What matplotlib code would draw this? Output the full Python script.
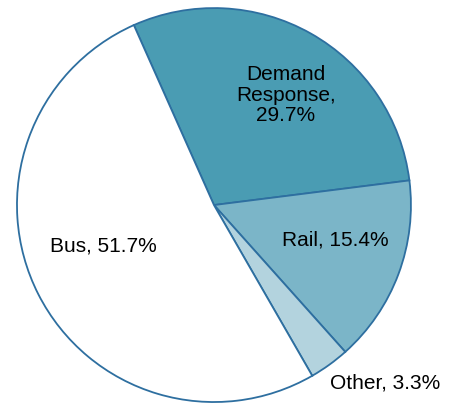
import matplotlib.pyplot as plt

# Share of trips by mode
labels = ['Demand\nResponse,\n29.7%', 'Rail, 15.4%', 'Other, 3.3%', 'Bus, 51.7%']
shares = [29.7, 15.4, 3.3, 51.7]
colors = ['#4a9cb3', '#7bb5c8', '#b3d3de', '#ffffff']

# label spots, in units of the pie radius
label_pos = [(0.365, 0.558), (0.614, -0.178), (0.59, -0.904), (-0.563, -0.208)]
label_ha = ['center', 'center', 'left', 'center']

plt.rcParams['font.family'] = ['Liberation Sans', 'DejaVu Sans']

fig = plt.figure(figsize=(4.49, 4.04), dpi=100)
ax = fig.add_axes([0, 0, 1, 1])
ax.pie(shares, colors=colors, startangle=114, counterclock=False,
       wedgeprops=dict(edgecolor='#2e6fa0', linewidth=1.3))

for lab, (x, y), ha in zip(labels, label_pos, label_ha):
    ax.text(x, y, lab, ha=ha, va='center', fontsize=15, linespacing=1.1)

ax.set_xlim(-1.086, 1.193)
ax.set_ylim(-1.010, 1.041)
ax.set_aspect('equal')
ax.axis('off')

fig.savefig('out.png', dpi=100)
